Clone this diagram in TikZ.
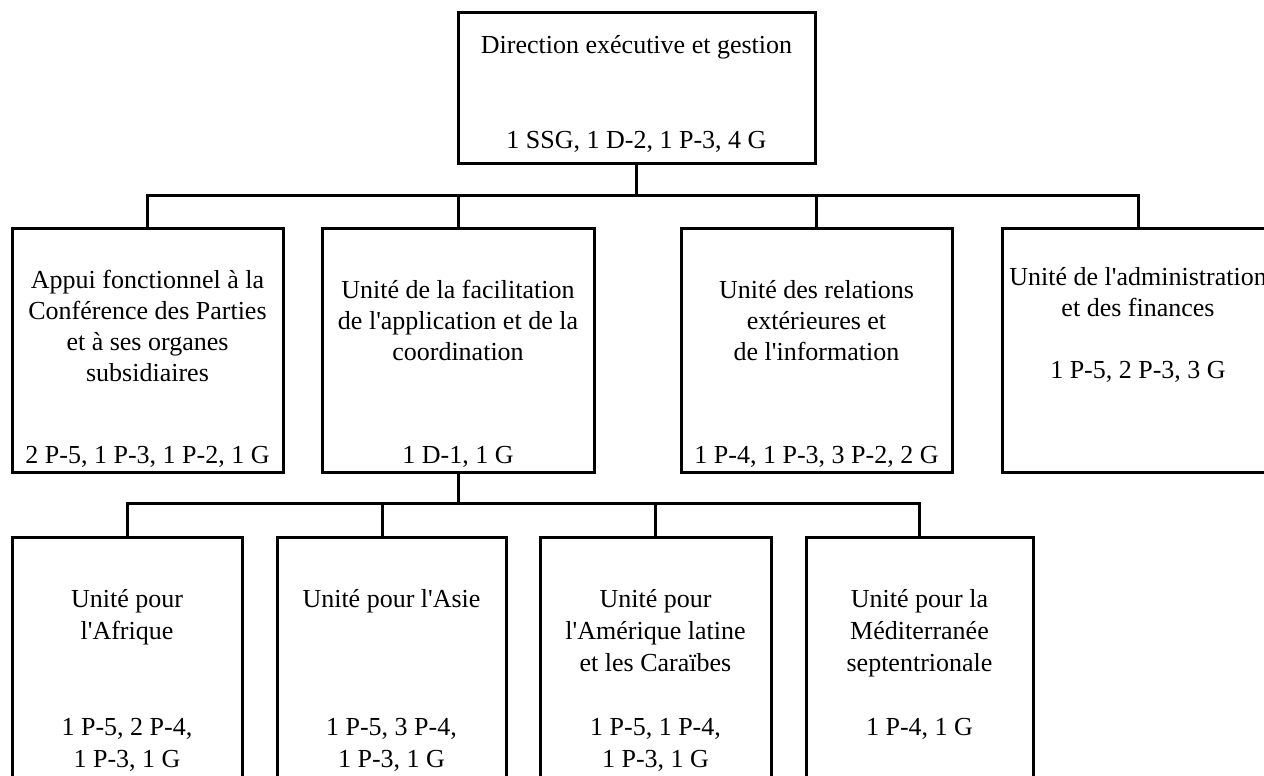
\documentclass[tikz,border=0pt]{standalone}
\usepackage{fontspec}
\setmainfont{Liberation Serif}
\newcommand\fsa{\fontsize{26}{31}\selectfont}
\newcommand\fsb{\fontsize{26}{32}\selectfont}
\newcommand\ap{\textquotesingle}
\begin{document}
\begin{tikzpicture}[x=1pt,y=-1pt,
  box/.style={draw, line width=3pt, rectangle, inner sep=0pt},
  txt/.style={inner sep=0pt, align=center, anchor=north, font=\fsa},
  txtb/.style={inner sep=0pt, align=center, anchor=north, font=\fsb},
  conn/.style={line width=3pt}]
\useasboundingbox (0,0) rectangle (1264,776);
\clip (0,0) rectangle (1264,776);
% boxes
\node[box, minimum width=357pt, minimum height=150pt] (top) at (636.5,88) {};
\node[box, minimum width=271pt, minimum height=244pt] (a) at (147.5,350) {};
\node[box, minimum width=272pt, minimum height=244pt] (b) at (458,350) {};
\node[box, minimum width=271pt, minimum height=244pt] (c) at (816.5,350) {};
\node[box, minimum width=272pt, minimum height=244pt] (d) at (1138,350) {};
\node[box, minimum width=230pt, minimum height=263pt] (e1) at (127,668.5) {};
\node[box, minimum width=229pt, minimum height=263pt] (e2) at (391.5,668.5) {};
\node[box, minimum width=231pt, minimum height=263pt] (e3) at (655.5,668.5) {};
\node[box, minimum width=227pt, minimum height=263pt] (e4) at (919.5,668.5) {};
% texts
\node[txt] (topt) at (636.5,31.3) {\strut Direction exécutive et gestion};
\node[txt] (tops) at (636.5,126.3) {\strut 1 SSG, 1 D-2, 1 P-3, 4 G};
\node[txt] (at) at (147.5,266.3) {\strut Appui fonctionnel à la\\Conférence des Parties\\et à ses organes\\subsidiaires};
\node[txt] (as) at (147.5,441.3) {\strut 2 P-5, 1 P-3, 1 P-2, 1 G};
\node[txt] (bt) at (458,276.3) {\strut Unité de la facilitation\\de l\ap application et de la\\coordination};
\node[txt] (bs) at (458,441.3) {\strut 1 D-1, 1 G};
\node[txt] (ct) at (816.5,276.3) {\strut Unité des relations\\extérieures et\\de l\ap information};
\node[txt] (cs) at (816.5,441.3) {\strut 1 P-4, 1 P-3, 3 P-2, 2 G};
\node[txt] (dt) at (1138,263.3) {\strut Unité de l\ap administration\\et des finances};
\node[txt] (ds) at (1138,356.3) {\strut 1 P-5, 2 P-3, 3 G};
\node[txtb] (e1t) at (127,585) {\strut Unité pour\\l\ap Afrique};
\node[txtb] (e1s) at (127,713.3) {\strut 1 P-5, 2 P-4,\\1 P-3, 1 G};
\node[txtb] (e2t) at (391.5,585) {\strut Unité pour l\ap Asie};
\node[txtb] (e2s) at (391.5,713.3) {\strut 1 P-5, 3 P-4,\\1 P-3, 1 G};
\node[txtb] (e3t) at (655.5,585) {\strut Unité pour\\l\ap Amérique latine\\et les Caraïbes};
\node[txtb] (e3s) at (655.5,713.3) {\strut 1 P-5, 1 P-4,\\1 P-3, 1 G};
\node[txtb] (e4t) at (919.5,585) {\strut Unité pour la\\Méditerranée\\septentrionale};
\node[txtb] (e4s) at (919.5,713.3) {\strut 1 P-4, 1 G};
% connectors
\coordinate (bus1) at (0,195);
\coordinate (bus2) at (0,503);
\coordinate (e2top) at (382,537);
\draw[conn] (top.south) -- (top.south |- bus1);
\draw[conn] (a.north) -- (a.north |- bus1) -- (d.north |- bus1) -- (d.north);
\draw[conn] (b.north) -- (b.north |- bus1);
\draw[conn] (c.north) -- (c.north |- bus1);
\draw[conn] (b.south) -- (b.south |- bus2);
\draw[conn] (e1.north) -- (e1.north |- bus2) -- (e4.north |- bus2) -- (e4.north);
\draw[conn] (e2top) -- (e2top |- bus2);
\draw[conn] (e3.north) -- (e3.north |- bus2);
\end{tikzpicture}
\end{document}
